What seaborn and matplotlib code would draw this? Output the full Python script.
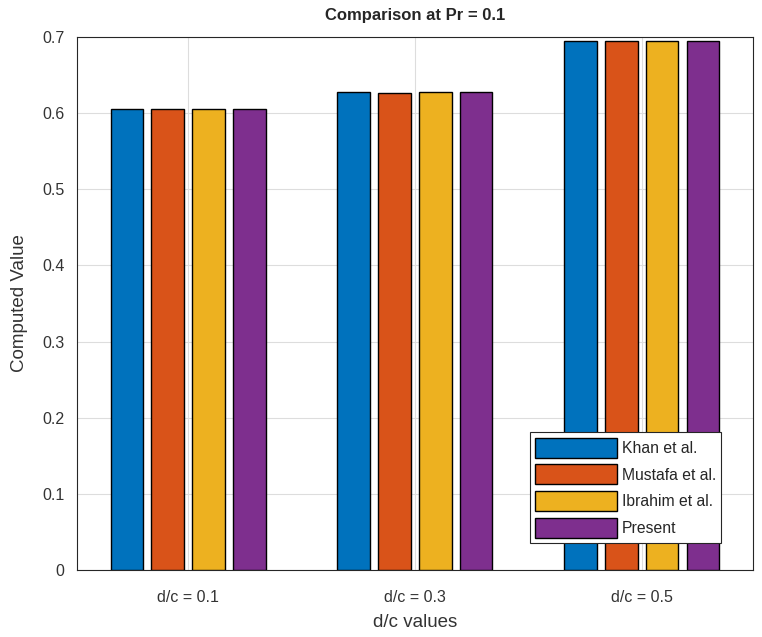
import numpy as np
import pandas as pd
import matplotlib
matplotlib.use("Agg")
import matplotlib.pyplot as plt
import seaborn as sns

# values
cases = ["d/c = 0.1", "d/c = 0.3", "d/c = 0.5"]
khan = [0.605, 0.628, 0.695]
mustafa = [0.605, 0.626, 0.695]
ibrahim = [0.605, 0.628, 0.695]
present = [0.605, 0.628, 0.695]
sources = ["Khan et al.", "Mustafa et al.", "Ibrahim et al.", "Present"]
colors = ["#0072BD", "#D95319", "#EDB120", "#7E2F8E"]

df = pd.DataFrame({
  "case": cases * 4,
  "value": khan + mustafa + ibrahim + present,
  "source": np.repeat(sources, len(cases)),
})

sns.set_style("white")
plt.rcParams['font.family'] = ['Liberation Sans', 'DejaVu Sans']

fig = plt.figure(figsize=(7.62, 6.37), dpi=100)
ax = fig.add_axes([0.101, 0.105, 0.887, 0.837])

sns.barplot(data=df, x="case", y="value", hue="source", palette=colors,
            width=0.72, gap=0.2, edgecolor="black", linewidth=1.0,
            saturation=1, errorbar=None, ax=ax, zorder=3)

ax.set_ylim(0, 0.7)
ax.set_xlim(-0.49, 2.49)
ax.set_yticks(np.arange(0, 0.71, 0.1))
ax.set_yticklabels(["0", "0.1", "0.2", "0.3", "0.4", "0.5", "0.6", "0.7"])
ax.grid(True, color="#dddddd", linewidth=0.8, zorder=0)
ax.set_axisbelow(True)
ax.tick_params(axis="both", direction="in", length=4, labelsize=11.5,
               colors="#262626", labelcolor="#333333")
ax.tick_params(axis="x", pad=14)
ax.tick_params(axis="y", pad=9)
for s in ax.spines.values():
  s.set_color("#262626")
  s.set_linewidth(0.8)

ax.set_title("Comparison at Pr = 0.1", fontsize=12, fontweight="bold", pad=12)
ax.set_xlabel("d/c values", fontsize=13.5, color="#333333", labelpad=7)
ax.set_ylabel("Computed Value", fontsize=13.5, color="#333333", labelpad=10)

leg = ax.legend(loc="lower left", bbox_to_anchor=(0.67, 0.05), fontsize=11.3,
                handlelength=5.2, handleheight=1.6, handletextpad=0.3,
                labelspacing=0.42, borderpad=0.35, borderaxespad=0,
                fancybox=False, framealpha=1, edgecolor="#262626")
leg.get_frame().set_linewidth(0.8)
for h in leg.legend_handles:
  h.set_edgecolor("black")

fig.savefig("out.png", dpi=100)
